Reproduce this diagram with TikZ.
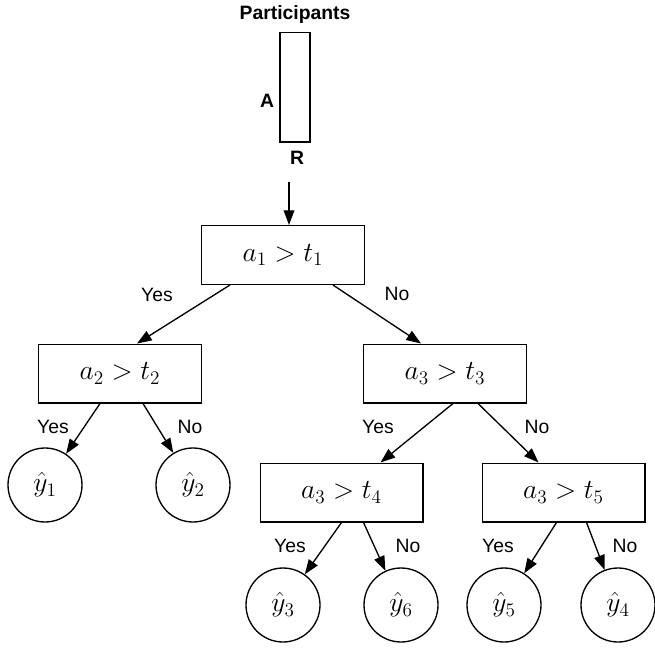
\documentclass[tikz,border=0pt]{standalone}
\usepackage{fontspec}
\setmainfont{Liberation Sans}
\usetikzlibrary{arrows.meta,calc}

\begin{document}
\begin{tikzpicture}[x=0.75pt,y=-0.75pt,
    >={Triangle[length=11pt,width=8pt]},
    every path/.style={line width=1pt}]

      \useasboundingbox (0,0) rectangle (655,648);

      % participants bar
      \begin{scope}[every node/.style={font=\bfseries\fontsize{14.5}{17}\selectfont, anchor=base}]
        \node (part) at (295,20) {Participants};
        \node (A)    at (267,108) {A};
        \node (R)    at (297,165) {R};
      \end{scope}
      \node[draw, line width=1pt, minimum width=22.5pt, minimum height=82pt] (bar) at (295,87.5) {};
      \coordinate (src) at (289,182);

      % tests
      \begin{scope}[every node/.style={draw, line width=1pt, minimum width=122pt, minimum height=44pt, font=\fontsize{20.74}{24}\selectfont}]
        \node (t1) at (283,255)     {$a_1 > t_1$};
        \node (t2) at (120,373.5)   {$a_2 > t_2$};
        \node (t3) at (445,373.5)   {$a_3 > t_3$};
        \node (t4) at (341.5,492.5) {$a_3 > t_4$};
        \node (t5) at (563.5,492.5) {$a_3 > t_5$};
      \end{scope}

      % leaves
      \begin{scope}[every node/.style={circle, draw, line width=1pt, minimum size=55.5pt, inner sep=0pt, font=\fontsize{20.74}{24}\selectfont}]
        \node (y1) at (45,485)  {$\hat{y}_1$};
        \node (y2) at (193,485) {$\hat{y}_2$};
        \node (y3) at (283,605) {$\hat{y}_3$};
        \node (y6) at (401,605) {$\hat{y}_6$};
        \node (y5) at (504,605) {$\hat{y}_5$};
        \node (y4) at (618,605) {$\hat{y}_4$};
      \end{scope}

      % branch labels
      \begin{scope}[every node/.style={font=\fontsize{14.5}{17}\selectfont, anchor=base}]
        \node (yes1) at (157,301) {Yes};
        \node (no1)  at (397,300) {No};
        \node (yes2) at (53,433)  {Yes};
        \node (no2)  at (190,433) {No};
        \node (yes3) at (378,433) {Yes};
        \node (no3)  at (537,433) {No};
        \node (yes4) at (290,552) {Yes};
        \node (no4)  at (408,552) {No};
        \node (yes5) at (498,552) {Yes};
        \node (no5)  at (625,552) {No};
      \end{scope}

      \begin{scope}[every edge/.style={draw, ->}]
        \path (src) edge ($(t1.north)+(6,0)$);
        \path ($(t1.south)+(-53,0)$) edge ($(t2.north)+(17,0)$);
        \path ($(t1.south)+(50,0)$)  edge ($(t3.north)+(-24,0)$);
        \path ($(t2.south)+(-20,0)$) edge (y1);
        \path ($(t2.south)+(23,0)$)  edge (y2);
        \path ($(t3.south)+(8,0)$)   edge ($(t4.north)+(39,0)$);
        \path ($(t3.south)+(33,0)$)  edge ($(t5.north)+(-25,0)$);
        \path (t4.south)             edge (y3);
        \path ($(t4.south)+(22,0)$)  edge (y6);
        \path ($(t5.south)+(-7,0)$)  edge (y5);
        \path ($(t5.south)+(23,0)$)  edge (y4);
      \end{scope}

    \end{tikzpicture}
\end{document}
